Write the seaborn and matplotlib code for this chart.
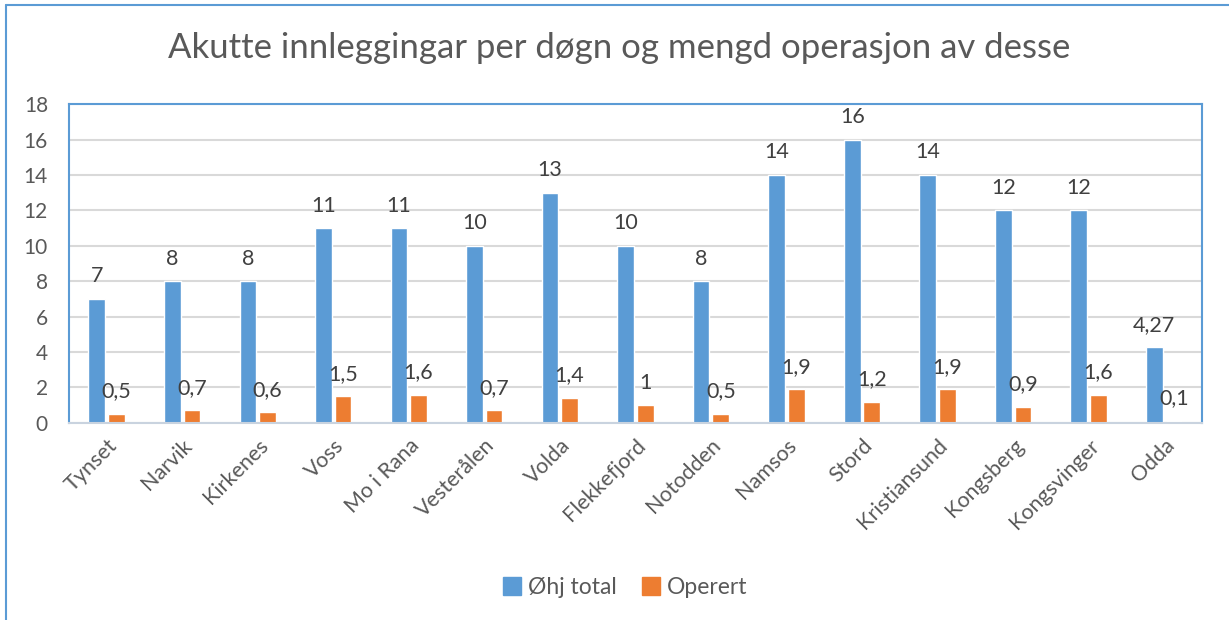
import pandas as pd
import seaborn as sns
import matplotlib.pyplot as plt
from matplotlib.lines import Line2D

# data
places = ["Tynset", "Narvik", "Kirkenes", "Voss", "Mo i Rana", "Vesterålen", "Volda",
          "Flekkefjord", "Notodden", "Namsos", "Stord", "Kristiansund", "Kongsberg",
          "Kongsvinger", "Odda"]
ohj_total = [7, 8, 8, 11, 11, 10, 13, 10, 8, 14, 16, 14, 12, 12, 4.27]
operert = [0.5, 0.7, 0.6, 1.5, 1.6, 0.7, 1.4, 1, 0.5, 1.9, 1.2, 1.9, 0.9, 1.6, 0.1]
series = ["Øhj total", "Operert"]
y_ticks = [0, 2, 4, 6, 8, 10, 12, 14, 16, 18]

blue = "#5B9BD5"
orange = "#ED7D31"
text_col = "#595959"

sns.set_theme(style="white")
plt.rcParams["font.family"] = ["Lato", "DejaVu Sans"]

df = pd.DataFrame({
    "place": places * 2,
    "serie": [series[0]] * len(places) + [series[1]] * len(places),
    "value": ohj_total + operert,
})

fig = plt.figure(figsize=(12.29, 6.2), dpi=100)
ax = fig.add_axes([0.056, 0.318, 0.922, 0.514])

sns.barplot(data=df, x="place", y="value", hue="serie", palette=[blue, orange],
            width=0.52, gap=0.15, ax=ax, legend=False, saturation=1)

# data labels, comma as decimal sign
for cont, vals in zip(ax.containers, [ohj_total, operert]):
    labs = [f"{v:g}".replace(".", ",") for v in vals]
    ax.bar_label(cont, labels=labs, padding=9, fontsize=15.5, color="#404040")

ax.set_ylim(0, 18)
ax.set_xlim(-0.5, len(places) - 0.5)
ax.set_yticks(y_ticks)
ax.set_yticklabels([str(t) for t in y_ticks], fontsize=15, color=text_col)
ax.tick_params(axis="y", pad=15, length=0)
ax.tick_params(axis="x", length=0, pad=9)
plt.setp(ax.get_xticklabels(), rotation=45, ha="right", rotation_mode="anchor",
         fontsize=15.5, color=text_col)
ax.set_xlabel("")
ax.set_ylabel("")
ax.yaxis.grid(True, color="#D9D9D9", linewidth=1.5)
ax.set_axisbelow(True)
for side in ["left", "top", "right"]:
    ax.spines[side].set_color(blue)
    ax.spines[side].set_linewidth(1.5)
ax.spines["bottom"].set_color("#C9D3DF")
ax.spines["bottom"].set_linewidth(1.5)

fig.text(0.504, 0.923, "Akutte innleggingar per døgn og mengd operasjon av desse",
         ha="center", va="center", fontsize=25, color=text_col)

handles = [Line2D([], [], marker="s", linestyle="", markersize=13, color=c) for c in [blue, orange]]
fig.legend(handles, series, loc="center", bbox_to_anchor=(0.507, 0.053), ncol=2,
           frameon=False, fontsize=16.5, labelcolor=text_col, handletextpad=0.1,
           columnspacing=0.9, handlelength=1.2)

# outer chart border (only top and left visible in the screenshot)
fig.add_artist(Line2D([0.005, 1.0], [0.992, 0.992], transform=fig.transFigure, color=blue, lw=1.5))
fig.add_artist(Line2D([0.005, 0.005], [0.0, 0.992], transform=fig.transFigure, color=blue, lw=1.5))

fig.savefig("out.png", dpi=100)
